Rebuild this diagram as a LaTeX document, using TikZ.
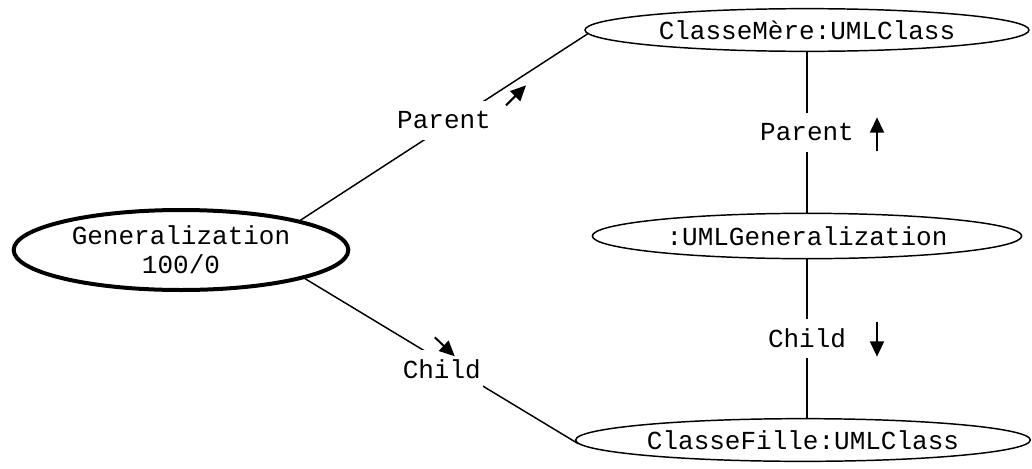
\documentclass[tikz,border=0pt]{standalone}
\usepackage{fontspec}
\setmonofont{Liberation Mono}
\usetikzlibrary{positioning,arrows.meta,shapes.geometric}

\begin{document}
\begin{tikzpicture}[x=0.75pt,y=-0.75pt,
    font=\ttfamily\fontsize{19.5pt}{22pt}\selectfont,
    obj/.style={ellipse,draw,line width=1.1pt,inner sep=0pt},
    role/.style={fill=white,inner sep=2pt,minimum height=29pt},
    link/.style={line width=1.1pt},
    dirarrow/.style={-{Triangle[length=11.5pt,width=10.5pt]},line width=1.5pt}]
  \useasboundingbox (0,0) rectangle (1032,468);

  \node[obj,line width=3pt,minimum width=251pt,minimum height=60pt,align=center] (gen) at (181,250) {Generalization\\100/0};
  \node[obj,minimum width=333pt,minimum height=32pt] (mere) at (807,30) {ClasseMère:UMLClass};
  \node[obj,minimum width=322pt,minimum height=34pt] (umlgen) at (807,236) {:UMLGeneralization};
  \node[obj,minimum width=341pt,minimum height=32pt] (fille) at (803,440) {ClasseFille:UMLClass};

  \draw[link] (gen.14) -- node[role,yshift=5pt] (gparent) {Parent} (mere.181);
  \draw[link] (gen.-13) -- node[role,yshift=-6pt] (gchild) {Child} (fille.181);
  \draw[link] (mere.south) -- node[role] (vparent) {Parent} (umlgen.north);
  \draw[link] (umlgen.south) -- node[role] (vchild) {Child} (umlgen.south |- fille.north);

  \draw[dirarrow] ([shift={(62,-15)}]gparent.center) -- ++(20,-20);
  \draw[dirarrow] ([shift={(-7,-32)}]gchild.center) -- ++(20,19);
  \draw[dirarrow] ([shift={(70,19)}]vparent.center) -- ++(0,-34);
  \draw[dirarrow] ([shift={(70,-17)}]vchild.center) -- ++(0,35);
\end{tikzpicture}
\end{document}
